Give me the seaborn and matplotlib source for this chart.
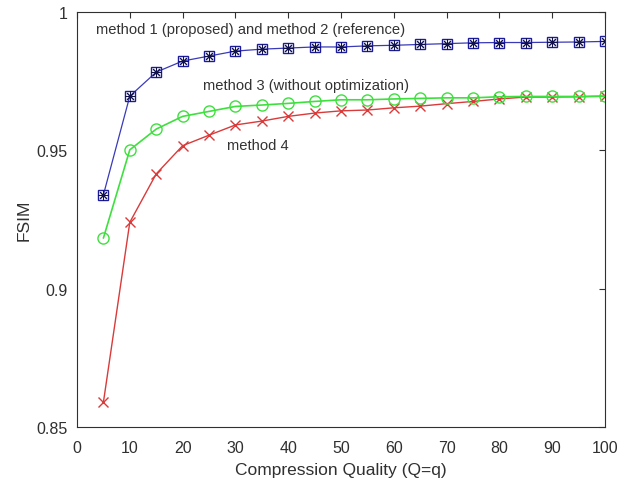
import numpy as np
import pandas as pd
import matplotlib
matplotlib.use("Agg")
import matplotlib.pyplot as plt
import seaborn as sns

# --- dados ---
quality = [5, 10, 15, 20, 25, 30, 35, 40, 45, 50, 55, 60, 65, 70, 75, 80, 85, 90, 95, 100]

fsim_method1 = [0.9339, 0.9696, 0.9783, 0.9823, 0.9841, 0.9859, 0.9866, 0.9870, 0.9874, 0.9874,
                0.9878, 0.9880, 0.9883, 0.9886, 0.9889, 0.9890, 0.9890, 0.9891, 0.9892, 0.9894]
fsim_method2 = fsim_method1
fsim_method3 = [0.9183, 0.9502, 0.9577, 0.9623, 0.9641, 0.9659, 0.9664, 0.9670, 0.9677, 0.9683,
                0.9683, 0.9686, 0.9688, 0.9690, 0.9690, 0.9694, 0.9695, 0.9695, 0.9695, 0.9696]
fsim_method4 = [0.8589, 0.9240, 0.9415, 0.9517, 0.9555, 0.9592, 0.9606, 0.9623, 0.9635, 0.9643,
                0.9646, 0.9654, 0.9660, 0.9669, 0.9677, 0.9686, 0.9693, 0.9693, 0.9694, 0.9696]

sns.set_style("white")
plt.rcParams["font.family"] = ["Liberation Sans", "DejaVu Sans"]

fig = plt.figure(figsize=(6.31, 4.85), dpi=100)
ax = fig.add_axes([0.122, 0.1175, 0.837, 0.8555])

sns.lineplot(x=quality, y=fsim_method4, ax=ax, color="#d93a3a", lw=1.0,
             marker="x", markersize=7, markeredgecolor="#d93a3a", markeredgewidth=1.0)
sns.lineplot(x=quality, y=fsim_method3, ax=ax, color="#3ee03e", lw=1.2,
             marker="o", markersize=8, markerfacecolor="none", markeredgecolor="#3ee03e",
             markeredgewidth=1.0)
sns.lineplot(x=quality, y=fsim_method1, ax=ax, color="#3a3ab8", lw=0.9,
             marker="s", markersize=6.5, markerfacecolor="none", markeredgecolor="#1c1c9a",
             markeredgewidth=1.0)
sns.lineplot(x=quality, y=fsim_method2, ax=ax, color="#3a3ab8", lw=0,
             marker=(8, 2, 0), markersize=7, markeredgecolor="#10104a",
             markeredgewidth=0.7)

ax.text(3.6, 0.9939, "method 1 (proposed) and method 2 (reference)", fontsize=10.6,
        color="#333333", va="center")
ax.text(23.9, 0.9736, "method 3 (without optimization)", fontsize=10.6,
        color="#333333", va="center")
ax.text(28.4, 0.9519, "method 4", fontsize=10.6, color="#333333", va="center")

ax.set_xlim(0, 100)
ax.set_ylim(0.85, 1.0)
ax.set_xticks(range(0, 101, 10))
ax.set_yticks([0.85, 0.9, 0.95, 1.0])
ax.set_yticklabels(["0.85", "0.9", "0.95", "1"])
ax.tick_params(direction="in", length=4, labelsize=11.5, colors="#303030", top=True, right=True,
               labeltop=False, labelright=False)
ax.tick_params(axis="x", pad=9.5)
ax.tick_params(axis="y", pad=6.5)
for s in ax.spines.values():
    s.set_color("#303030")
    s.set_linewidth(0.8)
    s.set_visible(True)

ax.set_xlabel("Compression Quality (Q=q)", fontsize=12.5, color="#303030", labelpad=5)
ax.set_ylabel("FSIM", fontsize=12.5, color="#303030", labelpad=3.5)

fig.savefig("out.png", dpi=100, facecolor="white")
